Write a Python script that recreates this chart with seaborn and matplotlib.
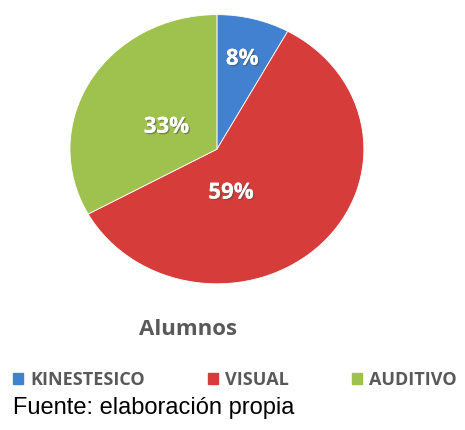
import numpy as np
import matplotlib
matplotlib.use("Agg")
import matplotlib.pyplot as plt
import seaborn as sns
from matplotlib.patches import Patch
import matplotlib.patheffects as pe

categories = ["KINESTESICO", "VISUAL", "AUDITIVO"]
values = [8, 59, 33]
colors = ["#4181cf", "#d63c3a", "#9fc24f"]

sns.set_theme(style="white")
plt.rcParams["font.family"] = ["Open Sans", "DejaVu Sans"]

fig = plt.figure(figsize=(4.65, 4.30), dpi=100)
ax = fig.add_axes([0.1505, 0.340, 0.632, 0.626])

wedges, texts = ax.pie(values, colors=colors, startangle=90, counterclock=False,
                       wedgeprops=dict(edgecolor="white", linewidth=0.6))
ax.set_aspect("auto")
ax.set_xlim(-1, 1)
ax.set_ylim(-1, 1)

# label placement: distance from centre and angle shift from the wedge bisector
dists = [0.69, 0.34, 0.38]
shifts = [0, -28.6, 5.2]
for w, v, d, s in zip(wedges, values, dists, shifts):
    ang = np.deg2rad((w.theta1 + w.theta2) / 2 + s)
    t = ax.text(d * np.cos(ang), d * np.sin(ang), f"{v}%", ha="center", va="center",
                color="white", fontsize=16, fontweight="bold")
    t.set_path_effects([pe.withSimplePatchShadow(offset=(1, -1), alpha=0.5), pe.Normal()])

fig.text(0.404, 0.233, "Alumnos", ha="center", va="center", fontsize=16,
         fontweight="bold", color="#595959")

handles = [Patch(facecolor=c, edgecolor=c) for c in colors]
fig.legend(handles, categories, loc="center left", bbox_to_anchor=(0.009, 0.116), ncol=3,
           frameon=False, handlelength=0.55, handleheight=0.55, handletextpad=0.4,
           columnspacing=3.5, borderpad=0.2, borderaxespad=0.3,
           prop=dict(size=13, weight="bold"), labelcolor="#595959")

fig.text(0.028, 0.051, "Fuente: elaboración propia", ha="left", va="center", fontsize=17,
         family=["Liberation Sans", "DejaVu Sans"], color="black")

fig.savefig("out.png", dpi=100)
